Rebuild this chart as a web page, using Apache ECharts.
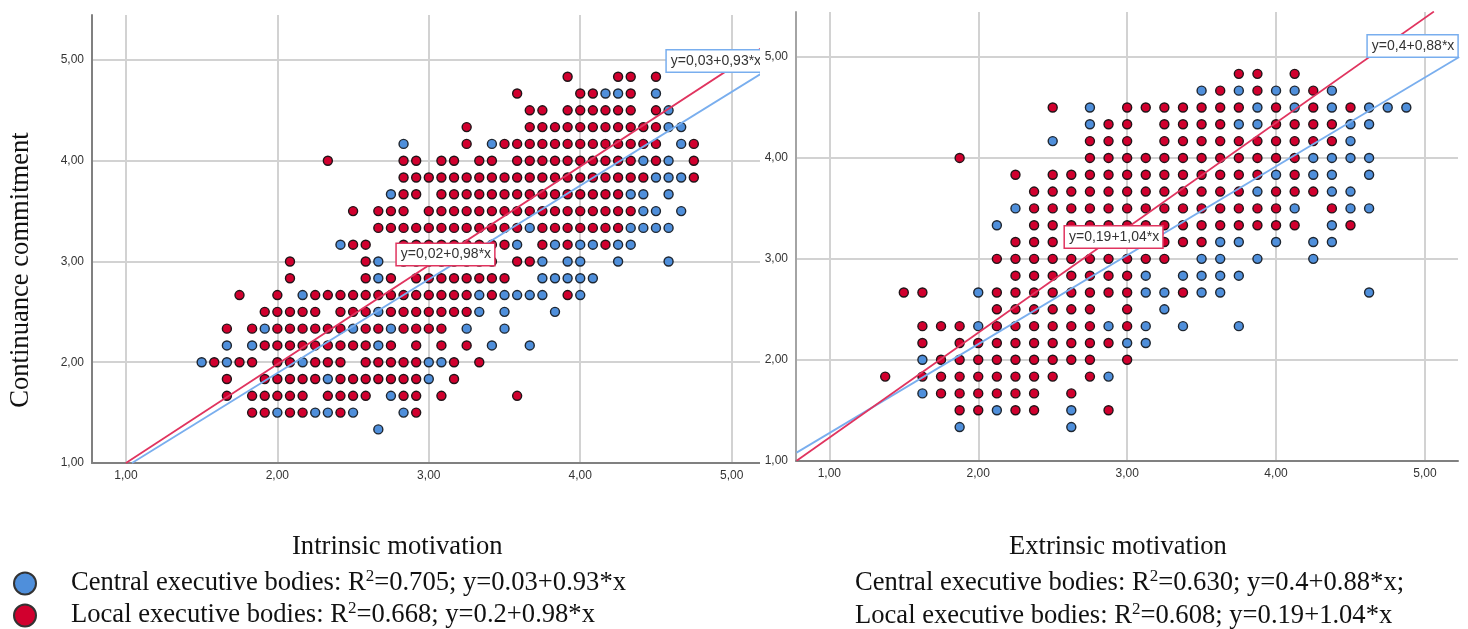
<!DOCTYPE html>
<html>
<head>
<meta charset="utf-8">
<title>Motivation and continuance commitment</title>
<script src="https://cdn.jsdelivr.net/npm/echarts@6/dist/echarts.min.js"></script>
<style>
html, body { margin: 0; padding: 0; background: #fff; }
#chart1 { position: absolute; left: 0; top: 0; width: 760px; height: 629px; }
#chart2 { position: absolute; left: 760px; top: 0; width: 708px; height: 629px; }
</style>
</head>
<body>
<div id="chart1"></div>
<div id="chart2"></div>
<script>
var tickValues = [1, 2, 3, 4, 5];

// answers sit on a grid, so each row is [y in sixths, [x positions]]
// left plot: x in twelfths
var intrinsicCentral = [
    [28, [50, 51, 54]],
    [27, [55]],
    [26, [55, 56]],
    [25, [34, 41, 56]],
    [24, [53, 55]],
    [23, [54, 55, 56]],
    [22, [33, 52, 53, 55]],
    [21, [53, 54, 56]],
    [20, [44, 52, 53, 54, 55]],
    [19, [29, 43, 46, 48, 49, 51, 52]],
    [18, [32, 45, 47, 48, 51, 55]],
    [17, [32, 45, 46, 47, 48, 49]],
    [16, [26, 40, 42, 43, 44, 45, 48]],
    [15, [32, 40, 42, 46]],
    [14, [23, 30, 33, 39, 42]],
    [13, [20, 22, 32, 41, 44]],
    [12, [18, 20, 26, 36, 37]],
    [11, [28, 36]],
    [10, [33]],
    [9, [24, 27, 28, 30, 34]],
    [8, [32]]
];
var intrinsicLocal = [
    [29, [47, 51, 52, 54]],
    [28, [43, 48, 49, 52]],
    [27, [44, 45, 47, 48, 49, 50, 51, 52, 54]],
    [26, [39, 44, 45, 46, 47, 48, 49, 50, 51, 52, 53, 54]],
    [25, [39, 42, 43, 44, 45, 46, 47, 48, 49, 50, 51, 52, 53, 54, 57]],
    [24, [28, 34, 35, 37, 38, 40, 41, 43, 44, 45, 46, 47, 48, 49, 50, 51, 52, 54, 57]],
    [23, [34, 35, 36, 37, 38, 39, 40, 41, 42, 43, 44, 45, 46, 47, 48, 49, 50, 51, 52, 53, 57]],
    [22, [34, 35, 37, 38, 39, 40, 41, 42, 43, 44, 45, 46, 47, 48, 49, 50, 51]],
    [21, [30, 32, 33, 34, 36, 37, 38, 39, 40, 41, 42, 43, 44, 45, 46, 47, 48, 49, 50, 51, 52]],
    [20, [32, 33, 34, 35, 36, 37, 38, 39, 40, 41, 42, 43, 45, 46, 47, 48, 49, 50, 51]],
    [19, [30, 31, 34, 35, 36, 37, 38, 39, 40, 41, 42, 45, 47, 50]],
    [18, [25, 31, 34, 35, 36, 37, 38, 39, 40, 41, 43, 44]],
    [17, [25, 31, 33, 35, 36, 37, 38, 39, 40, 41, 42]],
    [16, [21, 24, 27, 28, 29, 30, 31, 32, 33, 34, 35, 36, 37, 38, 39, 41, 47]],
    [15, [23, 24, 25, 26, 27, 29, 30, 31, 33, 34, 35, 36, 37, 38, 39]],
    [14, [20, 22, 24, 25, 26, 27, 28, 29, 31, 32, 34, 35, 36, 37]],
    [13, [23, 24, 25, 26, 27, 28, 29, 30, 31, 33, 35, 37, 39]],
    [12, [19, 21, 22, 24, 25, 27, 28, 29, 31, 32, 33, 34, 35, 38, 40]],
    [11, [20, 23, 24, 25, 26, 27, 29, 30, 31, 32, 33, 34, 35, 38]],
    [10, [20, 22, 23, 24, 25, 26, 28, 29, 30, 31, 34, 35, 37, 43]],
    [9, [22, 23, 25, 26, 29, 35]]
];

// right plot: x in eighths
var extrinsicCentral = [
    [28, [28, 30, 32, 33, 35]],
    [27, [22, 31, 33, 35, 37, 38, 39]],
    [26, [22, 30, 31, 36, 37]],
    [25, [20, 36]],
    [24, [34, 35, 36, 37]],
    [23, [32, 34, 35, 37]],
    [22, [31, 35, 36]],
    [21, [18, 33, 36, 37]],
    [20, [17, 35]],
    [19, [29, 30, 32, 34, 35]],
    [18, [28, 29, 31, 34]],
    [17, [25, 27, 28, 29, 30]],
    [16, [16, 25, 26, 28, 29, 37]],
    [15, [26]],
    [14, [16, 23, 25, 27, 30]],
    [13, [24, 25]],
    [12, [13]],
    [11, [23]],
    [10, [13]],
    [9, [17, 21]],
    [8, [15, 21]]
];
var extrinsicLocal = [
    [29, [30, 31, 33]],
    [28, [29, 31, 34]],
    [27, [20, 24, 25, 26, 27, 28, 29, 30, 32, 34, 36]],
    [26, [23, 24, 26, 27, 28, 29, 32, 33, 34, 35]],
    [25, [22, 23, 24, 26, 27, 28, 29, 30, 31, 32, 33, 34, 35]],
    [24, [15, 22, 23, 24, 25, 26, 27, 28, 29, 30, 31, 32, 33]],
    [23, [18, 20, 21, 22, 23, 24, 25, 26, 27, 28, 29, 30, 31, 33]],
    [22, [19, 20, 21, 22, 23, 24, 25, 26, 27, 28, 29, 30, 32, 33, 34]],
    [21, [19, 20, 21, 22, 23, 24, 25, 26, 27, 28, 29, 30, 31, 32, 35]],
    [20, [19, 20, 21, 22, 23, 24, 25, 26, 27, 28, 29, 30, 31, 32, 33, 36]],
    [19, [18, 19, 20, 21, 22, 23, 24, 25, 26, 27, 28]],
    [18, [17, 18, 19, 20, 21, 22, 23, 24, 25, 26]],
    [17, [18, 19, 20, 21, 22, 23, 24]],
    [16, [12, 13, 17, 18, 19, 20, 21, 22, 23, 24, 27]],
    [15, [17, 18, 19, 20, 21, 22, 24]],
    [14, [13, 14, 15, 17, 18, 19, 20, 21, 22, 24]],
    [13, [13, 15, 16, 17, 18, 19, 20, 21, 22, 23]],
    [12, [14, 15, 16, 17, 18, 19, 20, 21, 22, 24]],
    [11, [11, 13, 14, 15, 16, 17, 18, 19, 20, 22]],
    [10, [14, 15, 16, 17, 18, 19, 21]],
    [9, [15, 16, 18, 19, 23]]
];

// fit lines, end points
var intrinsicCentralLine = [[1.04, 1.0], [5.19, 4.86]];
var intrinsicLocalLine = [[1.0, 1.0], [5.19, 5.11]];
var extrinsicCentralLine = [[0.78, 1.08], [5.23, 5.0]];
var extrinsicLocalLine = [[0.78, 1.0], [5.06, 5.45]];

var BLUE = '#4f8fdb';
var RED = '#d1002e';
var BLUE_LINE = '#79aeee';
var RED_LINE = '#e0345f';
var SERIF = '"Liberation Serif", serif';
var SANS = '"Liberation Sans", Arial, sans-serif';

function expand(rows, xParts) {
    var out = [];
    rows.forEach(function (row) {
        row[1].forEach(function (i) {
            out.push([i / xParts, row[0] / 6]);
        });
    });
    return out;
}

function tickText(v) {
    return v.toFixed(2).replace('.', ',');
}

var textRich = {
    a: { fontFamily: SERIF, fontSize: 26.6, color: '#111' },
    s: { fontFamily: SERIF, fontSize: 17, color: '#111', padding: [0, 0, 14, 0] }
};

function caption(text, left, top) {
    return {
        text: text,
        left: left,
        top: top,
        padding: 0,
        textStyle: { fontWeight: 'normal', rich: textRich }
    };
}

function legendItem(name, top) {
    return {
        left: 13,
        top: top,
        padding: 0,
        itemWidth: 24,
        itemHeight: 22,
        icon: 'circle',
        itemStyle: { borderColor: '#333', borderWidth: 2 },
        data: [name],
        formatter: function (n) { return legendText[n]; },
        textStyle: { rich: textRich, padding: [0, 0, 0, 29] }
    };
}

function fitLabel(text, color, pos) {
    return {
        name: 'label',
        type: 'scatter',
        z: 10,
        silent: true,
        symbolSize: 0,
        itemStyle: { opacity: 1 },
        data: [pos],
        label: {
            show: true,
            position: 'inside',
            formatter: text,
            fontFamily: SANS,
            fontSize: 14,
            color: '#333',
            opacity: 1,
            backgroundColor: '#fff',
            borderColor: color,
            borderWidth: 1.5,
            padding: [4, 3, 3, 4]
        }
    };
}

function buildOption(cfg) {
    return {
        animation: false,
        backgroundColor: '#fff',
        title: cfg.titles,
        legend: cfg.legend,
        graphic: cfg.graphic,
        grid: cfg.grid,
        xAxis: {
            type: 'value',
            min: cfg.xMin,
            max: cfg.xMax,
            axisLine: { onZero: false, lineStyle: { color: '#808080', width: 2 } },
            axisTick: { show: false, customValues: tickValues },
            axisLabel: {
                customValues: tickValues,
                formatter: tickText,
                fontFamily: SANS,
                fontSize: 12,
                color: '#333',
                margin: 7
            },
            splitLine: { show: true, lineStyle: { color: '#d2d2d2', width: 2 } }
        },
        yAxis: {
            type: 'value',
            min: 1,
            max: cfg.yMax,
            axisLine: { show: true, onZero: false, lineStyle: { color: cfg.yLineColor, width: 2 } },
            axisTick: { show: false, customValues: tickValues },
            axisLabel: {
                customValues: tickValues,
                formatter: tickText,
                fontFamily: SANS,
                fontSize: 12,
                color: '#333',
                margin: 8
            },
            splitLine: { show: true, lineStyle: { color: '#d2d2d2', width: 2 } }
        },
        series: [
            {
                name: 'Central executive bodies',
                type: 'scatter',
                z: 3,
                symbolSize: 9,
                itemStyle: { color: BLUE, borderColor: '#1e2630', borderWidth: 1.4, opacity: 1 },
                data: cfg.central
            },
            {
                name: 'Local executive bodies',
                type: 'scatter',
                z: 4,
                symbolSize: 9,
                itemStyle: { color: RED, borderColor: '#201418', borderWidth: 1.4, opacity: 1 },
                data: cfg.local
            },
            {
                name: 'Central fit',
                type: 'line',
                z: 5,
                symbol: 'none',
                silent: true,
                lineStyle: { color: BLUE_LINE, width: 1.8 },
                data: cfg.centralLine
            },
            {
                name: 'Local fit',
                type: 'line',
                z: 6,
                symbol: 'none',
                silent: true,
                lineStyle: { color: RED_LINE, width: 1.8 },
                data: cfg.localLine
            },
            fitLabel(cfg.centralText, BLUE_LINE, cfg.centralPos),
            fitLabel(cfg.localText, RED_LINE, cfg.localPos)
        ]
    };
}

var legendText = {
    'Central executive bodies': '{a|Central executive bodies: R}{s|2}{a|=0.705; y=0.03+0.93*x}',
    'Local executive bodies': '{a|Local executive bodies: R}{s|2}{a|=0.668; y=0.2+0.98*x}'
};

var myChart1 = echarts.init(document.getElementById('chart1'));
var myChart2 = echarts.init(document.getElementById('chart2'));

myChart1.setOption(buildOption({
    grid: { left: 92, top: 15, width: 668, height: 448 },
    xMin: 0.776,
    xMax: 5.187,
    yMax: 5.446,
    yLineColor: '#808080',
    central: expand(intrinsicCentral, 12),
    local: expand(intrinsicLocal, 12),
    centralLine: intrinsicCentralLine,
    localLine: intrinsicLocalLine,
    centralText: 'y=0,03+0,93*x',
    localText: 'y=0,02+0,98*x',
    centralPos: [4.893, 4.99],
    localPos: [3.11, 3.07],
    titles: [caption('{a|Intrinsic motivation}', 292, 534)],
    legend: [
        legendItem('Central executive bodies', 568),
        legendItem('Local executive bodies', 600)
    ],
    graphic: [{
        type: 'text',
        x: 21,
        y: 270,
        rotation: Math.PI / 2,
        style: {
            text: 'Continuance commitment',
            font: '26.6px ' + SERIF,
            fill: '#111',
            align: 'center',
            verticalAlign: 'middle'
        }
    }]
}));

myChart2.setOption(buildOption({
    grid: { left: 36, top: 12, width: 662, height: 448.7 },
    xMin: 0.776,
    xMax: 5.222,
    yMax: 5.446,
    yLineColor: '#a4a4a4',
    central: expand(extrinsicCentral, 8),
    local: expand(extrinsicLocal, 8),
    centralLine: extrinsicCentralLine,
    localLine: extrinsicLocalLine,
    centralText: 'y=0,4+0,88*x',
    localText: 'y=0,19+1,04*x',
    centralPos: [4.917, 5.11],
    localPos: [2.909, 3.217],
    titles: [
        caption('{a|Extrinsic motivation}', 249, 534),
        caption('{a|Central executive bodies: R}{s|2}{a|=0.630; y=0.4+0.88*x;}', 95, 568),
        caption('{a|Local executive bodies: R}{s|2}{a|=0.608; y=0.19+1.04*x}', 95, 601)
    ],
    legend: { show: false },
    graphic: []
}));
</script>
</body>
</html>
